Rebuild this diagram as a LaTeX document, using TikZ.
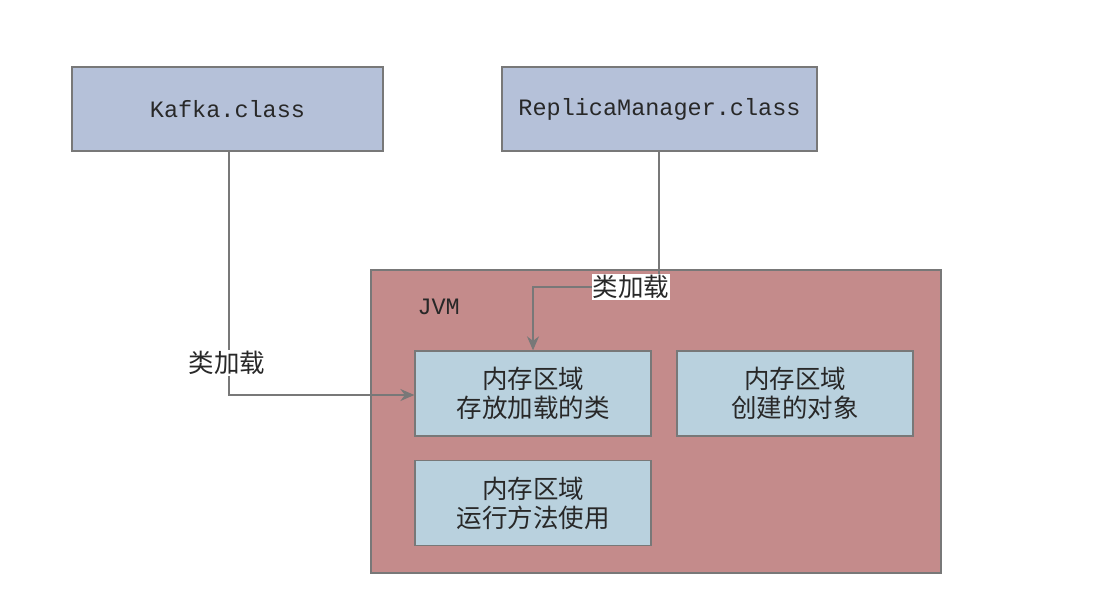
\documentclass[tikz,border=0pt]{standalone}
\usepackage{fontspec}
\setmonofont{Liberation Mono}
\newfontfamily\cjk{Noto Sans CJK SC}
\usetikzlibrary{arrows.meta,positioning}
\definecolor{classfill}{RGB}{181,193,217}
\definecolor{jvmfill}{RGB}{196,139,139}
\definecolor{memfill}{RGB}{185,209,222}
\definecolor{edge}{RGB}{120,120,120}
\definecolor{txt}{RGB}{40,40,40}
\tikzset{
  box/.style={draw=edge, line width=1.3pt, inner sep=0pt, text=txt},
  classbox/.style={box, fill=classfill, font=\ttfamily\fontsize{23.5}{28}\selectfont},
  membox/.style={box, fill=memfill, font=\cjk\fontsize{25.5}{29}\selectfont, align=center, minimum width=236pt, minimum height=85pt},
  conn/.style={draw=edge, line width=1.5pt, -{Stealth[length=14pt,width=12pt]}},
  lbl/.style={fill=white, inner sep=1pt, text=txt, font=\cjk\fontsize{25.5}{29}\selectfont}
}
\begin{document}
\begin{tikzpicture}[x=1pt,y=-1pt]
\useasboundingbox (0,0) rectangle (1108,610);
\node[classbox, minimum width=311pt, minimum height=84pt] (kafka) at (227.5,109) {Kafka.class};
\node[classbox, minimum width=315pt, minimum height=84pt] (replica) at (659.5,109) {ReplicaManager.class};
\node[box, fill=jvmfill, minimum width=570pt, minimum height=303pt] (jvm) at (656,421.5) {};
\node[text=txt, font=\ttfamily\fontsize{23.5}{28}\selectfont, anchor=west] (jvmlbl) at (414,307) {JVM};
\node[membox] (m1) at (533,393.5) {内存区域\\存放加载的类};
\node[membox] (m2) at (795,393.5) {内存区域\\创建的对象};
\node[membox] (m3) at (533,503) {内存区域\\运行方法使用};
\coordinate (k1) at (229,395);
\coordinate (r1) at (659,287);
\coordinate (r2) at (533,287);
\draw[conn] (kafka.south -| k1) -- (k1) -- (m1.west |- k1);
\draw[conn] (replica.south -| r1) -- (r1) -- (r2) -- (m1.north -| r2);
\node[lbl] (l1) at (227,363) {类加载};
\node[lbl] (l2) at (631,287) {类加载};
\end{tikzpicture}
\end{document}
